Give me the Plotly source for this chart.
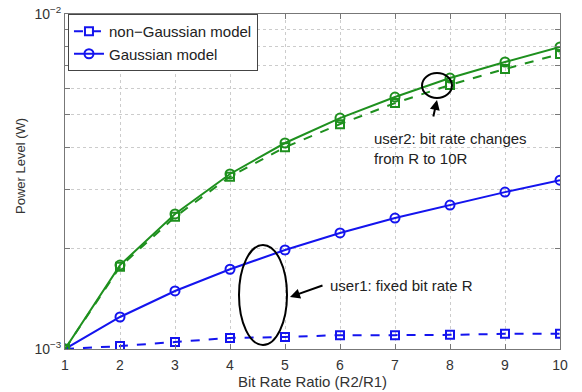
import plotly.graph_objects as go

ratio = [1, 2, 3, 4, 5, 6, 7, 8, 9, 10]
user2_gauss = [1.0e-3, 1.78e-3, 2.53e-3, 3.33e-3, 4.12e-3, 4.89e-3, 5.65e-3, 6.44e-3, 7.19e-3, 7.97e-3]
user2_nongauss = [1.0e-3, 1.76e-3, 2.48e-3, 3.27e-3, 4.0e-3, 4.69e-3, 5.42e-3, 6.14e-3, 6.85e-3, 7.6e-3]
user1_gauss = [1.0e-3, 1.246e-3, 1.49e-3, 1.73e-3, 1.975e-3, 2.22e-3, 2.46e-3, 2.69e-3, 2.94e-3, 3.19e-3]
user1_nongauss = [1.0e-3, 1.02e-3, 1.049e-3, 1.079e-3, 1.086e-3, 1.10e-3, 1.10e-3, 1.102e-3, 1.11e-3, 1.11e-3]

y_tickvals = [1e-3, 2e-3, 3e-3, 4e-3, 5e-3, 6e-3, 7e-3, 8e-3, 9e-3, 1e-2]
y_ticktext = ["10<sup>−3</sup>", "", "", "", "", "", "", "", "", "10<sup>−2</sup>"]

GREEN = "#1e901e"
BLUE = "#1414ee"
FONT = "Liberation Sans, Arial, sans-serif"

fig = go.Figure()
fig.add_trace(go.Scatter(x=ratio, y=user1_nongauss, mode="lines+markers", name="non−Gaussian model",
                         line=dict(color=BLUE, width=2, dash="dash"),
                         marker=dict(symbol="square-open", size=8, color=BLUE, line=dict(width=2))))
fig.add_trace(go.Scatter(x=ratio, y=user1_gauss, mode="lines+markers", name="Gaussian model",
                         line=dict(color=BLUE, width=2),
                         marker=dict(symbol="circle-open", size=9, color=BLUE, line=dict(width=2))))
fig.add_trace(go.Scatter(x=ratio, y=user2_nongauss, mode="lines+markers", showlegend=False,
                         line=dict(color=GREEN, width=2, dash="dash"),
                         marker=dict(symbol="square-open", size=8, color=GREEN, line=dict(width=2))))
fig.add_trace(go.Scatter(x=ratio, y=user2_gauss, mode="lines+markers", showlegend=False,
                         line=dict(color=GREEN, width=2),
                         marker=dict(symbol="circle-open", size=9, color=GREEN, line=dict(width=2))))

L, R, T, B = 65, 22, 14, 43
W, H = 582, 392
pw, ph = W - L - R, H - T - B

def px(xp):
    return (xp - L) / pw

def py(yp):
    return (H - B - yp) / ph

shapes = [
    dict(type="circle", xref="paper", yref="paper", x0=px(422), x1=px(452), y0=py(98), y1=py(73),
         line=dict(color="black", width=2)),
    dict(type="circle", xref="paper", yref="paper", x0=px(239), x1=px(287), y0=py(345), y1=py(245),
         line=dict(color="black", width=2)),
]

annotations = [
    dict(xref="paper", yref="paper", x=px(437), y=py(100), ax=-4, ay=18, text="", showarrow=True,
         arrowhead=2, arrowsize=1, arrowwidth=2, arrowcolor="black"),
    dict(xref="paper", yref="paper", x=px(372), y=py(148), text="user2: bit rate changes<br>from R to 10R",
         showarrow=False, xanchor="left", yanchor="middle", align="left",
         font=dict(family=FONT, size=15, color="#222")),
    dict(xref="paper", yref="paper", x=px(290), y=py(297), ax=34, ay=-12, text="", showarrow=True,
         arrowhead=2, arrowsize=1, arrowwidth=2, arrowcolor="black"),
    dict(xref="paper", yref="paper", x=px(328), y=py(285), text="user1: fixed bit rate R",
         showarrow=False, xanchor="left", yanchor="middle", align="left",
         font=dict(family=FONT, size=15, color="#222")),
    dict(xref="paper", yref="paper", x=px(20), y=py(166), text="Power Level (W)", textangle=-90,
         showarrow=False, xanchor="center", yanchor="middle",
         font=dict(family=FONT, size=13, color="#333")),
]

fig.update_layout(
    width=W, height=H,
    margin=dict(l=L, r=R, t=T, b=B),
    paper_bgcolor="white", plot_bgcolor="white",
    font=dict(family=FONT, size=14, color="#333"),
    shapes=shapes, annotations=annotations,
    legend=dict(x=0.006, y=1.0, xanchor="left", yanchor="top", bgcolor="white",
                bordercolor="#444", borderwidth=1, font=dict(size=15, color="#222"),
                tracegroupgap=0, itemwidth=30),
    xaxis=dict(range=[1, 10], tickvals=ratio, ticks="inside", ticklen=5, tickcolor="#777",
               showline=True, linecolor="#777", mirror="ticks", showgrid=True, automargin=False,
               gridcolor="#ccc", griddash="dot", zeroline=False, ticklabelstandoff=3,
               title=dict(text="Bit Rate Ratio (R2/R1)", standoff=0, font=dict(size=15, color="#333"))),
    yaxis=dict(type="log", range=[-3, -2], tickvals=y_tickvals, ticktext=y_ticktext, automargin=False,
               ticks="inside", ticklen=5, tickcolor="#777",
               showline=True, linecolor="#777", mirror="ticks", showgrid=True,
               gridcolor="#ccc", griddash="dot", zeroline=False),
)

fig.write_html("out.html")
